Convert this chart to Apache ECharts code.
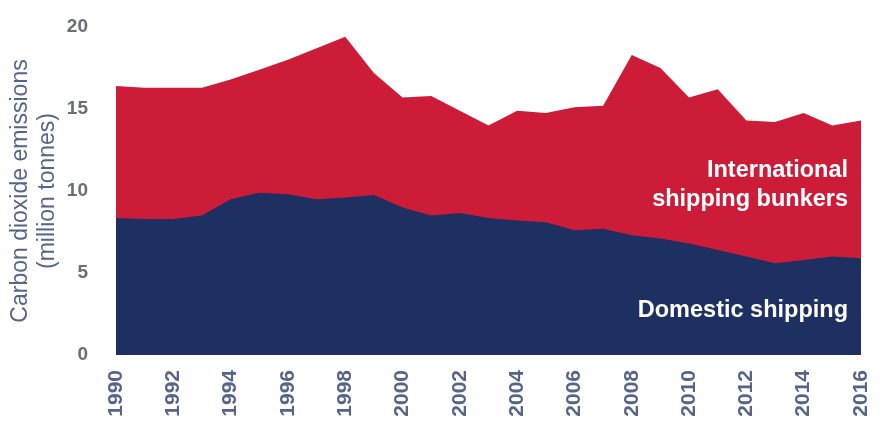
<!DOCTYPE html>
<html>
<head>
<meta charset="utf-8">
<script src="https://cdn.jsdelivr.net/npm/echarts@6/dist/echarts.min.js"></script>
<style>html,body{margin:0;padding:0;background:#fff}#c{width:882px;height:425px}</style>
</head>
<body>
<div id="c"></div>
<script>
const years = ['1990','1991','1992','1993','1994','1995','1996','1997','1998','1999','2000','2001','2002','2003','2004','2005','2006','2007','2008','2009','2010','2011','2012','2013','2014','2015','2016'];
// Top of the stack: domestic + international shipping bunkers (million tonnes)
const totalEmissions = [16.4,16.3,16.3,16.3,16.8,17.4,18.0,18.7,19.4,17.2,15.7,15.8,14.9,14.0,14.9,14.75,15.1,15.2,18.3,17.5,15.7,16.2,14.3,14.2,14.75,14.0,14.3];
// Domestic shipping (million tonnes)
const domestic = [8.35,8.3,8.3,8.5,9.5,9.9,9.8,9.5,9.6,9.75,9.0,8.5,8.66,8.35,8.2,8.1,7.6,7.7,7.3,7.1,6.8,6.4,6.0,5.6,5.8,6.0,5.9];
const yTicks = [0,5,10,15,20];
const axisName = 'Carbon dioxide emissions\n(million tonnes)';
const intlLabel = 'International\nshipping bunkers';
const domLabel = 'Domestic shipping';

const chart = echarts.init(document.getElementById('c'));
const font = 'Liberation Sans, Arial, sans-serif';
chart.setOption({
  animation: false,
  grid: {left: 116, right: 21, top: 27, bottom: 70, containLabel: false, outerBoundsMode: 'none'},
  xAxis: {
    type: 'category', data: years, boundaryGap: false,
    axisLine: {show: false}, axisTick: {show: false},
    axisLabel: {interval: 1, rotate: 90, margin: 15, color: '#56648a', fontSize: 21, fontWeight: 'bold', fontFamily: font}
  },
  yAxis: {
    type: 'value', min: yTicks[0], max: yTicks[yTicks.length-1], interval: 5,
    splitLine: {show: false}, axisLine: {show: false}, axisTick: {show: false},
    axisLabel: {margin: 28, color: '#6a6d78', fontSize: 19, fontWeight: 'bold', fontFamily: font},
    name: axisName, nameLocation: 'middle', nameGap: 55, nameRotate: 90, nameMoveOverlap: false,
    nameTextStyle: {color: '#56648a', fontSize: 23, fontFamily: font, lineHeight: 27}
  },
  series: [
    {type: 'line', data: totalEmissions, symbol: 'none', lineStyle: {width: 0}, areaStyle: {color: '#cc1c38', opacity: 1}, z: 1},
    {type: 'line', data: domestic, symbol: 'none', lineStyle: {width: 0}, areaStyle: {color: '#1e2f61', opacity: 1}, z: 2}
  ],
  graphic: [
    {type: 'text', right: 34, top: 156, z: 10, style: {text: intlLabel, fill: '#fff', font: 'bold 23.5px ' + font, textAlign: 'right', lineHeight: 29}},
    {type: 'text', right: 34, top: 299, z: 10, style: {text: domLabel, fill: '#fff', font: 'bold 23.5px ' + font, textAlign: 'right'}}
  ]
});
</script>
</body>
</html>
